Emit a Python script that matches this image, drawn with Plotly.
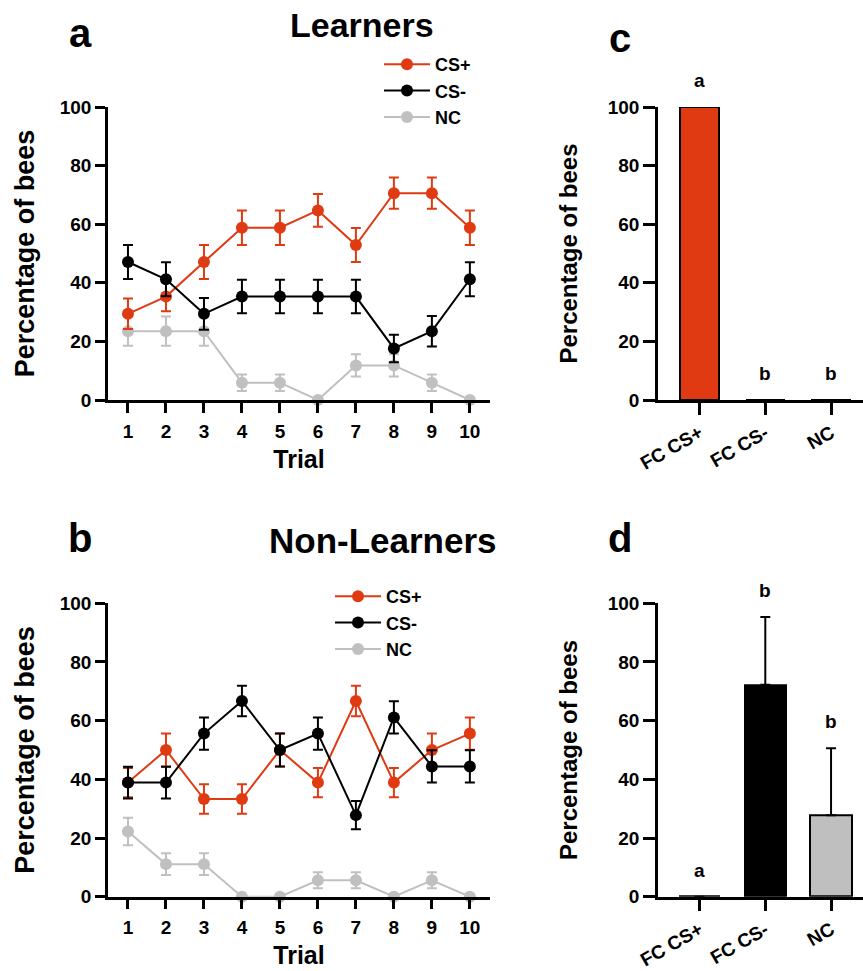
import plotly.graph_objects as go

# ---------------- data ----------------
trials = list(range(1, 11))

learn_csp = [29.4, 35.3, 47.1, 58.8, 58.8, 64.7, 52.9, 70.6, 70.6, 58.8]
learn_csp_err = [5.2, 5.0, 5.8, 5.9, 5.9, 5.6, 5.8, 5.3, 5.3, 5.9]
learn_csm = [47.1, 41.2, 29.4, 35.3, 35.3, 35.3, 35.3, 17.6, 23.5, 41.2]
learn_csm_err = [5.8, 5.8, 5.4, 5.7, 5.7, 5.7, 5.7, 4.7, 5.2, 5.8]
learn_nc = [23.5, 23.5, 23.5, 5.9, 5.9, 0, 11.8, 11.8, 5.9, 0]
learn_nc_err = [5.0, 5.0, 5.0, 2.8, 2.8, 0, 3.8, 3.8, 2.8, 0]

non_csp = [38.9, 50.0, 33.3, 33.3, 50.0, 38.9, 66.7, 38.9, 50.0, 55.6]
non_csp_err = [5.0, 5.6, 5.0, 5.0, 5.6, 5.0, 5.2, 5.0, 5.6, 5.5]
non_csm = [38.9, 38.9, 55.6, 66.7, 50.0, 55.6, 27.8, 61.1, 44.4, 44.4]
non_csm_err = [5.4, 5.4, 5.5, 5.2, 5.6, 5.5, 4.8, 5.5, 5.5, 5.5]
non_nc = [22.2, 11.1, 11.1, 0, 0, 5.6, 5.6, 0, 5.6, 0]
non_nc_err = [4.7, 3.7, 3.7, 0, 0, 2.7, 2.7, 0, 2.7, 0]

fc_cats = ["FC CS+", "FC CS-", "NC"]
learn_fc = [100, 0, 0]
learn_fc_err = [0, 0, 0]
learn_letters = ["a", "b", "b"]
non_fc = [0, 72.2, 27.8]
non_fc_err = [0, 23.1, 22.8]
non_letters = ["a", "b", "b"]

y_ticks = [0, 20, 40, 60, 80, 100]
Y_MAX = 100

# ---------------- style ----------------
W, H = 863, 971
FONT = "Liberation Sans"
RED = "#E03A12"
BLACK = "#000000"
GRAY = "#C0C0C0"
BAR_COLORS = [RED, BLACK, "#BFBFBF"]


def px_x(p):
    return p / W


def px_y(p):
    return 1 - p / H


fig = go.Figure()

series_a = [
    ("NC", learn_nc, learn_nc_err, GRAY),
    ("CS+", learn_csp, learn_csp_err, RED),
    ("CS-", learn_csm, learn_csm_err, BLACK),
]
series_b = [
    ("NC", non_nc, non_nc_err, GRAY),
    ("CS+", non_csp, non_csp_err, RED),
    ("CS-", non_csm, non_csm_err, BLACK),
]
rank = {"CS+": 1, "CS-": 2, "NC": 3}

for series, xa, ya, leg in [(series_a, "x", "y", "legend"), (series_b, "x2", "y2", "legend2")]:
    for name, vals, errs, col in series:
        fig.add_trace(go.Scatter(
            x=trials, y=vals, name=name, mode="lines+markers",
            line=dict(color=col, width=2),
            marker=dict(color=col, size=12),
            error_y=dict(type="data", array=errs, color=col, thickness=2, width=5),
            xaxis=xa, yaxis=ya, legend=leg, legendrank=rank[name], cliponaxis=False,
        ))

fig.add_trace(go.Bar(
    x=fc_cats, y=learn_fc, marker=dict(color=BAR_COLORS, line=dict(color="black", width=2)),
    width=0.6, xaxis="x3", yaxis="y3", showlegend=False,
))
fig.add_trace(go.Bar(
    x=fc_cats, y=non_fc, marker=dict(color=BAR_COLORS, line=dict(color="black", width=2)),
    width=0.63, xaxis="x4", yaxis="y4", showlegend=False,
    error_y=dict(type="data", symmetric=False, array=non_fc_err, arrayminus=[0, 0, 0],
                 color="black", thickness=2, width=5),
))

tick_font = dict(family=FONT, size=19, color="black", weight="bold")
title_font = dict(family=FONT, size=25, color="black", weight="bold")

line_axis_x = dict(range=[0.474, 10.53], tickvals=trials, showline=True, linecolor="black",
                   linewidth=2.5, ticks="outside", ticklen=10, tickwidth=2.5, tickcolor="black",
                   showgrid=False, zeroline=False, tickfont=tick_font, automargin=False,
                   ticklabelstandoff=2)
y_axis_common = dict(range=[0, Y_MAX], tickvals=y_ticks, showline=True, linecolor="black",
                     linewidth=2.5, ticks="outside", ticklen=10, tickwidth=2.5, tickcolor="black",
                     showgrid=False, zeroline=False, tickfont=tick_font, automargin=False)
cat_axis = dict(type="category", range=[-0.632, 2.486], showline=True, linecolor="black",
                linewidth=2.5, ticks="outside", ticklen=12, tickwidth=2.5, tickcolor="black",
                showgrid=False, zeroline=False, tickangle=-30, automargin=False,
                tickfont=dict(family=FONT, size=19, color="black", weight="bold"))

X_LINE = (108, 490)
X_BAR = (658, 863)
Y_TOP = (107, 400)
Y_BOT = (603.3, 896.7)

dom_x_line = [px_x(X_LINE[0]), px_x(X_LINE[1])]
dom_x_bar = [px_x(X_BAR[0]), 1.0]
dom_y_top = [px_y(Y_TOP[1]), px_y(Y_TOP[0])]
dom_y_bot = [px_y(Y_BOT[1]), px_y(Y_BOT[0])]

ytitle_big = dict(family=FONT, size=27, color="black", weight="bold")
ytitle_small = dict(family=FONT, size=24, color="black", weight="bold")
legend_font = dict(family=FONT, size=18, color="black", weight="bold")

fig.update_layout(
    width=W, height=H, margin=dict(l=0, r=0, t=0, b=0),
    paper_bgcolor="white", plot_bgcolor="white",
    bargap=0,
    xaxis=dict(domain=dom_x_line, anchor="y", **line_axis_x,
               title=dict(text="Trial", font=title_font, standoff=10)),
    yaxis=dict(domain=dom_y_top, anchor="x", **y_axis_common,
               title=dict(text="Percentage of bees", font=ytitle_big, standoff=18)),
    xaxis2=dict(domain=dom_x_line, anchor="y2", **line_axis_x,
                title=dict(text="Trial", font=title_font, standoff=10)),
    yaxis2=dict(domain=dom_y_bot, anchor="x2", **y_axis_common,
                title=dict(text="Percentage of bees", font=ytitle_big, standoff=18)),
    xaxis3=dict(domain=dom_x_bar, anchor="y3", **cat_axis),
    yaxis3=dict(domain=dom_y_top, anchor="x3", **dict(y_axis_common, ticklen=12),
                title=dict(text="Percentage of bees", font=ytitle_small, standoff=24)),
    xaxis4=dict(domain=dom_x_bar, anchor="y4", **cat_axis),
    yaxis4=dict(domain=dom_y_bot, anchor="x4", **dict(y_axis_common, ticklen=12),
                title=dict(text="Percentage of bees", font=ytitle_small, standoff=24)),
    legend=dict(x=px_x(379), y=px_y(46), xanchor="left", yanchor="top",
                font=legend_font, bgcolor="rgba(0,0,0,0)", tracegroupgap=0, itemwidth=46),
    legend2=dict(x=px_x(330), y=px_y(578), xanchor="left", yanchor="top",
                 font=legend_font, bgcolor="rgba(0,0,0,0)", tracegroupgap=0, itemwidth=46),
)

annotations = []
# panel letters and titles
for txt, x, y, size in [("a", 80, 33, 40), ("b", 80, 538, 40), ("c", 620, 38, 40), ("d", 620, 538, 40),
                        ("Learners", 362, 25, 34), ("Non-Learners", 383, 540, 35)]:
    annotations.append(dict(text=txt, x=px_x(x), y=px_y(y), xref="paper", yref="paper",
                            xanchor="center", yanchor="middle", showarrow=False,
                            font=dict(family=FONT, size=size, color="black", weight="bold")))

# significance letters (placed via the y-axis scale, converted to paper space
# so that letters above the axis range are still drawn)
for cats, vals, errs, letters, xr, dom in [(fc_cats, learn_fc, learn_fc_err, learn_letters, "x3", dom_y_top),
                                           (fc_cats, non_fc, non_fc_err, non_letters, "x4", dom_y_bot)]:
    for c, v, e, l in zip(cats, vals, errs, letters):
        yv = v + e + 9
        ypaper = dom[0] + (dom[1] - dom[0]) * yv / Y_MAX
        annotations.append(dict(text=l, x=c, y=ypaper, xref=xr, yref="paper",
                                xanchor="center", yanchor="middle", showarrow=False,
                                font=dict(family=FONT, size=19, color="black", weight="bold")))

fig.update_layout(annotations=annotations)

fig.write_html("out.html", config={"displayModeBar": False},
               post_script="document.body.style.margin='0';document.body.style.overflow='hidden';")
